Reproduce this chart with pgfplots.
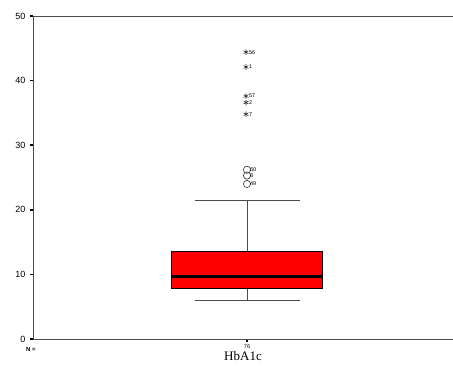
\documentclass[border=0pt]{standalone}
\usepackage{fontspec}
\setmainfont{Liberation Serif}
\setsansfont{Liberation Sans}
\usepackage{pgfplots}
\pgfplotsset{compat=1.18}
\begin{document}
\begin{tikzpicture}
\useasboundingbox (0,0) rectangle (453pt,369pt);
\begin{axis}[
  at={(33pt,30pt)}, anchor=south west,
  scale only axis, width=420pt, height=323pt,
  xmin=33, xmax=453, ymin=0, ymax=50,
  axis x line=box, axis y line=left,
  axis line style={draw=black!70, line width=0.9pt, -},
  ytick={0,10,20,30,40,50},
  xtick={247}, xticklabels={76},
  xtick pos=lower,
  tick align=outside,
  major tick length=3pt,
  tick style={black, line width=1.6pt},
  /pgf/number format/assume math mode=true,
  yticklabel style={font=\sffamily\fontsize{9}{10}\selectfont, xshift=-1pt},
  xticklabel style={font=\sffamily\fontsize{5.5}{6}\selectfont, yshift=1pt},
  xlabel={HbA1c},
  xlabel style={font=\fontsize{13}{14}\selectfont, yshift=4pt},
  clip=false,
]
% whiskers (lower whisker 5.9, upper whisker 21.5)
\addplot[draw=black!70, line width=0.9pt] coordinates {(247,13.6) (247,21.5)};
\addplot[draw=black!70, line width=0.9pt] coordinates {(195,21.5) (300,21.5)};
\addplot[draw=black!70, line width=0.9pt] coordinates {(247,7.9) (247,5.9)};
\addplot[draw=black!70, line width=0.9pt] coordinates {(195,5.9) (300,5.9)};
% box: lower quartile 7.9, upper quartile 13.6
\addplot[draw=black, fill=red, line width=0.7pt] coordinates {(171.5,7.9) (322.5,7.9) (322.5,13.6) (171.5,13.6)} -- cycle;
% median 9.75
\addplot[draw=black, line width=3pt] coordinates {(171.8,9.75) (322.2,9.75)};
\addplot[only marks, mark=o, mark size=3.6pt, mark options={draw=black!80, line width=0.6pt, fill=white},
  nodes near coords, point meta=explicit symbolic,
  every node near coord/.style={anchor=west, xshift=-0.5pt, font=\sffamily\fontsize{5.5}{6}\selectfont}]
  table[meta=lab] {
x y lab
247 26.2 60
247 25.3 8
247 24.0 49
};
\addplot[only marks, mark=asterisk, mark size=2.8pt, mark options={draw=black!80, line width=0.6pt},
  nodes near coords, point meta=explicit symbolic,
  every node near coord/.style={anchor=west, xshift=-0.5pt, font=\sffamily\fontsize{5.5}{6}\selectfont}]
  table[meta=lab] {
x y lab
246 44.4 56
246 42.1 1
246 37.6 57
246 36.6 2
246 34.8 7
};
\node[font=\sffamily\bfseries\fontsize{6}{7}\selectfont, anchor=center] at (axis cs:31,-1.55) {N =};
\end{axis}
\end{tikzpicture}
\end{document}
